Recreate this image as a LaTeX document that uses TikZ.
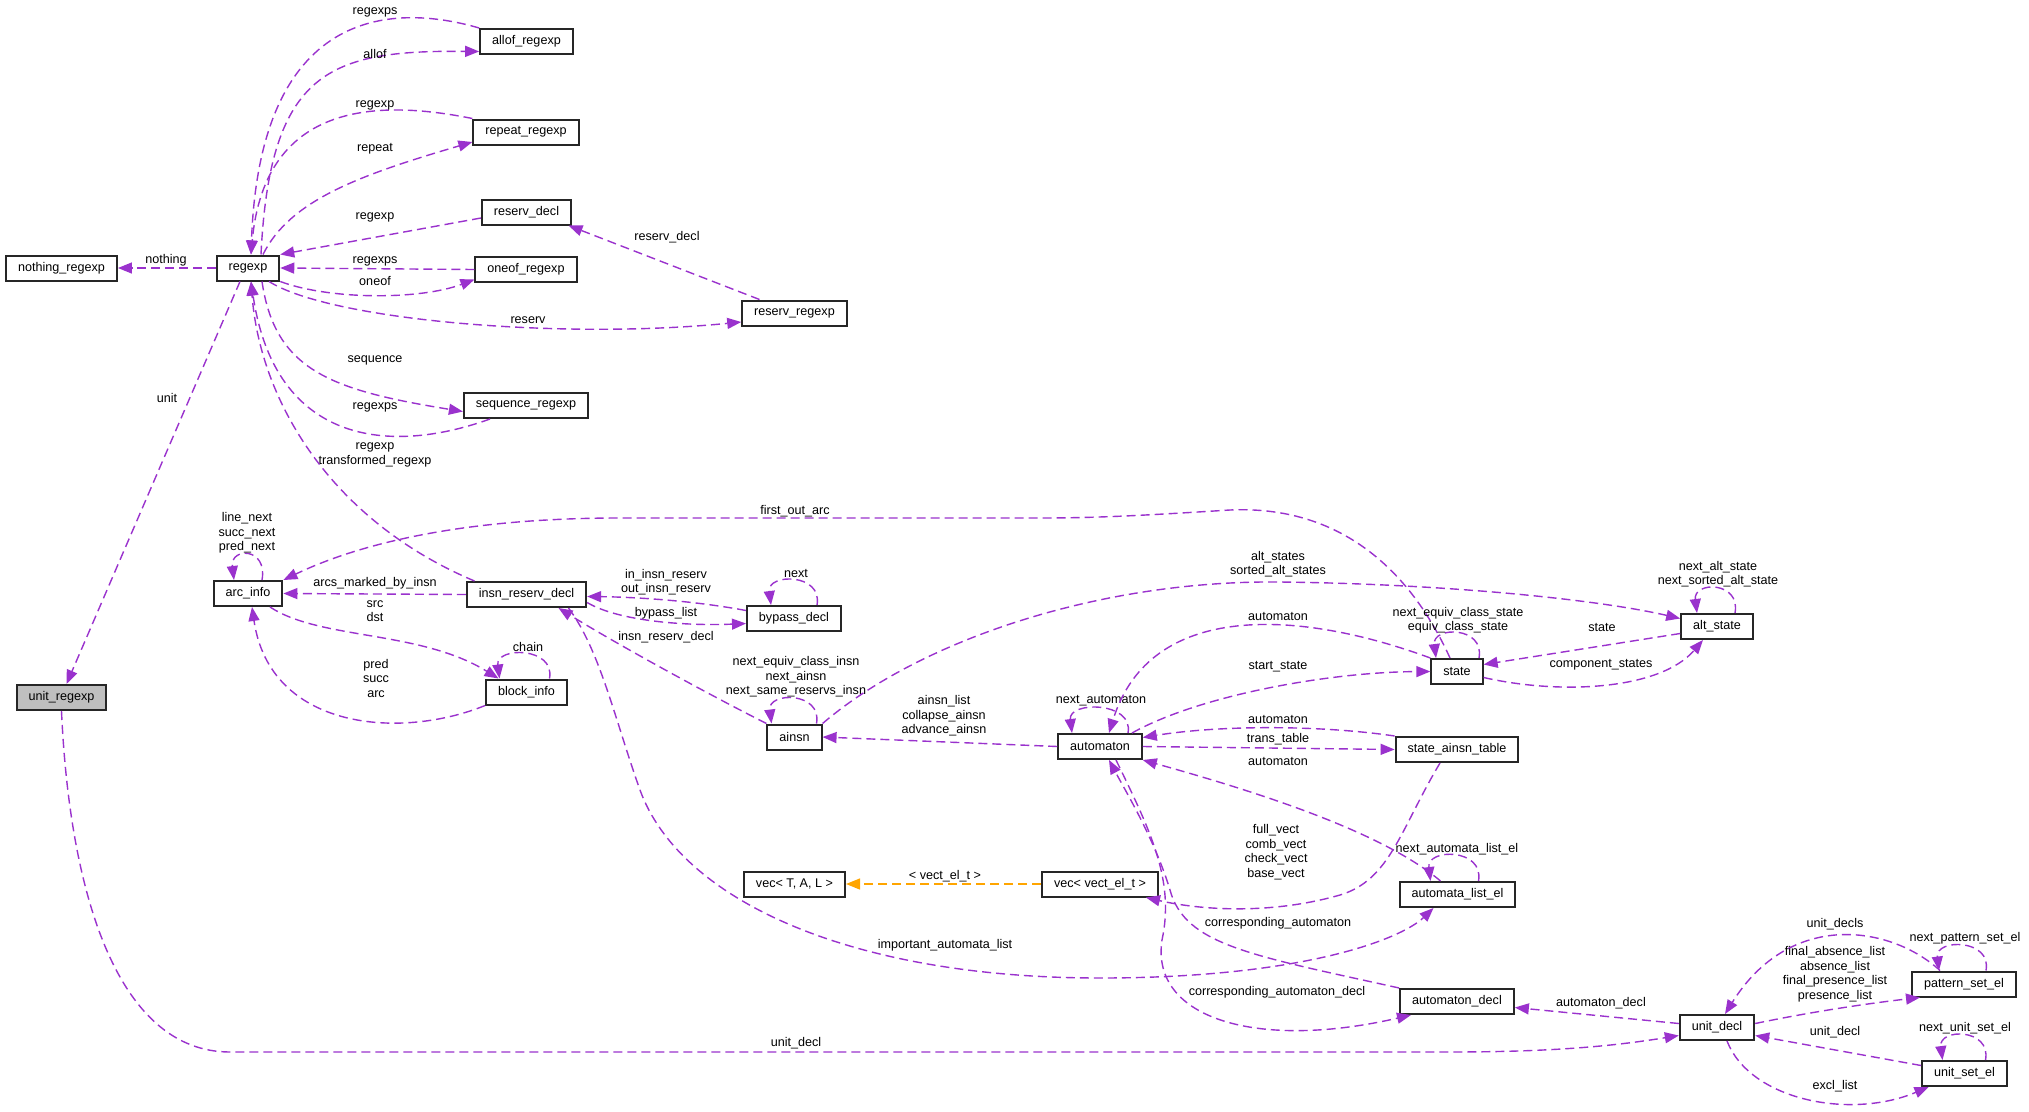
\documentclass[tikz,border=0pt]{standalone}
\usepackage{fontspec}
\setmainfont{Liberation Sans}
\usetikzlibrary{arrows.meta}
\definecolor{edgepurple}{RGB}{154,50,205}
\definecolor{edgeorange}{RGB}{255,165,0}
\definecolor{rootgray}{RGB}{191,191,191}

\begin{document}
\begin{tikzpicture}[x=1pt, y=-1pt, >={Triangle[length=14pt,width=11pt]},
    every node/.style={font=\fontsize{12.6}{14.5}\selectfont},
    cls/.style={draw=black!85, line width=2pt, fill=white, minimum height=25pt, inner xsep=12pt, inner ysep=2pt},
    mem/.style={->, draw=edgepurple, line width=1.4pt, dash pattern=on 9pt off 5pt},
    tmpl/.style={->, draw=edgeorange, line width=1.4pt, dash pattern=on 9pt off 5pt},
    lbl/.style={inner sep=0pt, align=center}]
  \useasboundingbox (0,0) rectangle (2029,1111);

  % classes
  \node[cls] (allof) at (526.5,41.5) {allof\_regexp};
  \node[cls] (repeat) at (526,132) {repeat\_regexp};
  \node[cls] (reservdecl) at (526.5,212) {reserv\_decl};
  \node[cls] (oneof) at (526,269.5) {oneof\_regexp};
  \node[cls] (regexp) at (248,268) {regexp};
  \node[cls] (nothing) at (61.5,268) {nothing\_regexp};
  \node[cls] (sequence) at (526,405.5) {sequence\_regexp};
  \node[cls] (reservregexp) at (794.5,313) {reserv\_regexp};
  \node[cls, fill=rootgray] (unitregexp) at (61.5,697.5) {unit\_regexp};
  \node[cls] (arcinfo) at (248,593.5) {arc\_info};
  \node[cls] (insnreserv) at (526.5,594.5) {insn\_reserv\_decl};
  \node[cls] (blockinfo) at (526.5,692) {block\_info};
  \node[cls] (bypass) at (794,618.5) {bypass\_decl};
  \node[cls] (ainsn) at (794.5,737) {ainsn};
  \node[cls] (automaton) at (1100,746.5) {automaton};
  \node[cls] (stateainsn) at (1457,749.5) {state\_ainsn\_table};
  \node[cls] (altstate) at (1717,626.5) {alt\_state};
  \node[cls] (state) at (1457,671.5) {state};
  \node[cls] (automatalist) at (1457.5,894.5) {automata\_list\_el};
  \node[cls] (automatondecl) at (1457,1001.5) {automaton\_decl};
  \node[cls] (unitdecl) at (1717,1027.5) {unit\_decl};
  \node[cls] (patternset) at (1964,984) {pattern\_set\_el};
  \node[cls] (unitset) at (1964.5,1073.5) {unit\_set\_el};
  \node[cls] (vecT) at (794.5,884) {vec< T, A, L >};
  \node[cls] (vecvect) at (1100,884) {vec< vect\_el\_t >};

  % regexp family
  \draw[mem] ([xshift=13pt]regexp.north) .. controls (270,70) and (330,50) .. ([yshift=-10pt]allof.west) node[lbl] at (375,54) {allof};
  \draw[mem] (allof.north west) .. controls (400,5) and (260,0) .. ([xshift=3pt]regexp.north) node[lbl] at (375,12) {regexps};
  \draw[mem] ([xshift=15pt]regexp.north) .. controls (290,200) and (360,175) .. ([yshift=-10pt]repeat.west) node[lbl] at (375,149) {repeat};
  \draw[mem] (repeat.north west) .. controls (380,100) and (265,100) .. ([xshift=3pt]regexp.north) node[lbl] at (375,105) {regexp};
  \draw[mem] ([yshift=-6pt]reservdecl.west) -- (regexp.north east) node[lbl] at (375,217) {regexp};
  \draw[mem] (oneof.west) -- (regexp.east) node[lbl] at (375,261) {regexps};
  \draw[mem] (regexp.south east) .. controls (330,300) and (420,300) .. ([yshift=-10pt]oneof.west) node[lbl] at (375,281) {oneof};
  \draw[mem] ([xshift=21pt]regexp.south) .. controls (330,320) and (560,340) .. ([yshift=-9pt]reservregexp.west) node[lbl] at (528,320) {reserv};
  \draw[mem] ([xshift=-35pt]reservregexp.north) -- ([xshift=42pt]reservdecl.south) node[lbl] at (667,237) {reserv\_decl};
  \draw[mem] ([xshift=14pt]regexp.south) .. controls (275,370) and (330,390) .. ([yshift=-6pt]sequence.west) node[lbl] at (375,360) {sequence};
  \draw[mem] ([xshift=-36pt]sequence.south) .. controls (390,455) and (275,445) .. ([xshift=3pt]regexp.south) node[lbl] at (375,407) {regexps};
  \draw[mem] (regexp.west) -- (nothing.east) node[lbl] at (166,260) {nothing};
  \draw[mem] ([xshift=-8pt]regexp.south) -- ([xshift=5pt]unitregexp.north) node[lbl] at (167,398) {unit};
  \draw[mem] ([xshift=-52pt]insnreserv.north) .. controls (330,520) and (260,400) .. ([xshift=3pt]regexp.south) node[lbl] at (375,455) {regexp\\transformed\_regexp};

  % arcs and blocks
  \draw[mem] (insnreserv.west) -- (arcinfo.east) node[lbl] at (375,583) {arcs\_marked\_by\_insn};
  \draw[mem] ([xshift=14pt]arcinfo.north) .. controls +(6,-33) and +(-4,-33) .. ([xshift=-14pt]arcinfo.north) node[lbl] at (247,533) {line\_next\\succ\_next\\pred\_next};
  \draw[mem] ([xshift=22pt]arcinfo.south) .. controls (320,640) and (420,630) .. ([xshift=-28pt]blockinfo.north) node[lbl] at (375,611) {src\\dst};
  \draw[mem] (blockinfo.south west) .. controls (400,740) and (270,730) .. ([xshift=4pt]arcinfo.south) node[lbl] at (376,678) {pred\\succ\\arc};
  \draw[mem] ([xshift=23pt]blockinfo.north) .. controls +(6,-32) and +(-4,-32) .. ([xshift=-27pt]blockinfo.north) node[lbl] at (528,647) {chain};
  \draw[mem] ([xshift=-7pt]state.north) .. controls (1410,570) and (1340,505) .. (1230,510) .. controls (1150,515) and (1100,518) .. (1040,518) -- (620,518) .. controls (450,518) and (350,548) .. (arcinfo.north east) node[lbl] at (795,511) {first\_out\_arc};

  % insn reservations
  \draw[mem] ([yshift=8pt]bypass.west) .. controls (690,600) and (630,597) .. ([yshift=-2pt]insnreserv.east) node[lbl] at (666,582) {in\_insn\_reserv\\out\_insn\_reserv};
  \draw[mem] ([yshift=-8pt]insnreserv.east) .. controls (620,622) and (690,626) .. ([yshift=-5pt]bypass.west) node[lbl] at (666,613) {bypass\_list};
  \draw[mem] ([xshift=23pt]bypass.north) .. controls +(6,-32) and +(-4,-32) .. ([xshift=-23pt]bypass.north) node[lbl] at (796,573) {next};
  \draw[mem] (ainsn.north west) .. controls (700,690) and (610,640) .. ([xshift=32pt]insnreserv.south) node[lbl] at (666,637) {insn\_reserv\_decl};
  \draw[mem] ([xshift=22pt]ainsn.north) .. controls +(6,-32) and +(-4,-32) .. ([xshift=-23pt]ainsn.north) node[lbl] at (796,677) {next\_equiv\_class\_insn\\next\_ainsn\\next\_same\_reservs\_insn};
  \draw[mem] (ainsn.north east) .. controls (920,640) and (1100,580) .. (1280,582) .. controls (1450,584) and (1600,600) .. ([yshift=8pt]altstate.west) node[lbl] at (1278,564) {alt\_states\\sorted\_alt\_states};
  \draw[mem] ([xshift=42pt]insnreserv.south) .. controls (600,650) and (615,720) .. (640,790) .. controls (680,900) and (850,978) .. (1100,978) .. controls (1300,978) and (1400,940) .. ([xshift=-24pt]automatalist.south) node[lbl] at (945,945) {important\_automata\_list};

  % automata and states
  \draw[mem] (automaton.west) -- (ainsn.east) node[lbl] at (944,716) {ainsn\_list\\collapse\_ainsn\\advance\_ainsn};
  \draw[mem] ([xshift=28pt]automaton.north) .. controls +(6,-32) and +(-4,-32) .. ([xshift=-28pt]automaton.north) node[lbl] at (1101,701) {next\_automaton};
  \draw[mem] (state.north west) .. controls (1300,610) and (1150,600) .. ([xshift=9pt]automaton.north) node[lbl] at (1278,616) {automaton};
  \draw[mem] ([xshift=32pt]automaton.north) .. controls (1200,695) and (1330,672) .. (state.west) node[lbl] at (1278,667) {start\_state};
  \draw[mem] ([xshift=22pt]state.north) .. controls +(6,-32) and +(-4,-32) .. ([xshift=-21pt]state.north) node[lbl] at (1458,620) {next\_equiv\_class\_state\\equiv\_class\_state};
  \draw[mem] ([yshift=-7pt]altstate.west) -- ([yshift=7pt]state.east) node[lbl] at (1602,627) {state};
  \draw[mem] ([yshift=-6pt]state.east) .. controls (1560,695) and (1660,690) .. ([xshift=-14pt]altstate.south) node[lbl] at (1601,665) {component\_states};
  \draw[mem] ([xshift=18pt]altstate.north) .. controls +(6,-32) and +(-4,-32) .. ([xshift=-20pt]altstate.north) node[lbl] at (1718,574) {next\_alt\_state\\next\_sorted\_alt\_state};
  \draw[mem] (stateainsn.north west) .. controls (1320,725) and (1220,725) .. ([yshift=9pt]automaton.east) node[lbl] at (1278,719) {automaton};
  \draw[mem] (automaton.east) -- (stateainsn.west) node[lbl] at (1278,739) {trans\_table};
  \draw[mem] ([xshift=-17pt]automatalist.north) .. controls (1380,830) and (1250,790) .. (automaton.south east) node[lbl] at (1278,761) {automaton};
  \draw[mem] ([xshift=-17pt]stateainsn.south) .. controls (1400,830) and (1390,880) .. (1340,895) .. controls (1270,915) and (1200,910) .. ([xshift=46pt]vecvect.south) node[lbl] at (1276,852) {full\_vect\\comb\_vect\\check\_vect\\base\_vect};
  \draw[tmpl] (vecvect.west) -- (vecT.east) node[lbl] at (945,876) {< vect\_el\_t >};
  \draw[mem] ([xshift=21pt]automatalist.north) .. controls +(6,-33) and +(-4,-33) .. ([xshift=-27pt]automatalist.north) node[lbl] at (1457,849) {next\_automata\_list\_el};
  \draw[mem] (automatondecl.north west) .. controls (1250,955) and (1185,945) .. (1170,890) .. controls (1155,840) and (1125,790) .. ([xshift=9pt]automaton.south) node[lbl] at (1278,923) {corresponding\_automaton};
  \draw[mem] ([xshift=16pt]automaton.south) .. controls (1150,830) and (1175,880) .. (1162,940) .. controls (1150,1020) and (1260,1050) .. ([xshift=-46pt]automatondecl.south) node[lbl] at (1277,992) {corresponding\_automaton\_decl};

  % units
  \draw[mem] (unitregexp.south) .. controls (70,900) and (120,1052) .. (230,1052) -- (1450,1052) .. controls (1560,1052) and (1620,1045) .. ([yshift=-8pt]unitdecl.west) node[lbl] at (796,1043) {unit\_decl};
  \draw[mem] ([yshift=4pt]unitdecl.west) -- ([yshift=-6pt]automatondecl.east) node[lbl] at (1601,1003) {automaton\_decl};
  \draw[mem] ([xshift=-24pt]patternset.north) .. controls (1890,925) and (1790,910) .. ([xshift=8pt]unitdecl.north) node[lbl] at (1835,924) {unit\_decls};
  \draw[mem] ([yshift=4pt]unitdecl.east) .. controls (1820,1010) and (1880,1002) .. ([xshift=-44pt]patternset.south) node[lbl] at (1835,974) {final\_absence\_list\\absence\_list\\final\_presence\_list\\presence\_list};
  \draw[mem] ([xshift=22pt]patternset.north) .. controls +(6,-32) and +(-4,-32) .. ([xshift=-25pt]patternset.north) node[lbl] at (1965,938) {next\_pattern\_set\_el};
  \draw[mem] ([yshift=8pt]unitset.west) -- ([yshift=-8pt]unitdecl.east) node[lbl] at (1835,1032) {unit\_decl};
  \draw[mem] ([xshift=10pt]unitdecl.south) .. controls (1750,1100) and (1850,1120) .. ([xshift=-36pt]unitset.south) node[lbl] at (1835,1086) {excl\_list};
  \draw[mem] ([xshift=21pt]unitset.north) .. controls +(6,-32) and +(-4,-32) .. ([xshift=-22pt]unitset.north) node[lbl] at (1965,1028) {next\_unit\_set\_el};
\end{tikzpicture}
\end{document}
